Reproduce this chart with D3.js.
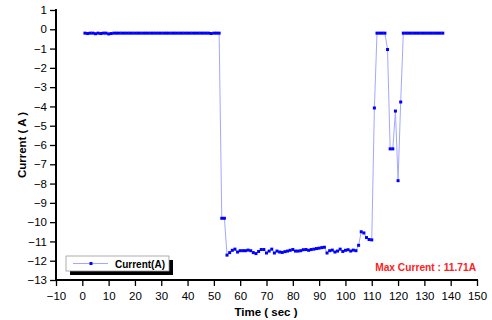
<!DOCTYPE html>
<html>
<head>
<meta charset="utf-8">
<script src="https://cdn.jsdelivr.net/npm/d3@7"></script>
<style>
body { margin: 0; background: #fff; }
svg text { font-family: "Liberation Sans", Arial, sans-serif; }
</style>
</head>
<body>
<div id="chart"></div>
<script>
// time (sec) and current (A)
var flatStart = [1, 2, 3, 4, 5, 6, 7, 8, 9, 10, 11, 12, 13, 14, 15, 16, 17, 18, 19, 20,
  21, 22, 23, 24, 25, 26, 27, 28, 29, 30, 31, 32, 33, 34, 35, 36, 37, 38, 39, 40,
  41, 42, 43, 44, 45, 46, 47, 48, 49, 50, 51, 52];
var flatStartVal = [-0.2, -0.22, -0.2, -0.2, -0.23, -0.2, -0.22, -0.2, -0.2, -0.24, -0.22, -0.2, -0.2, -0.2, -0.2, -0.2, -0.2, -0.2, -0.2, -0.2,
  -0.2, -0.2, -0.2, -0.2, -0.2, -0.2, -0.2, -0.2, -0.2, -0.2, -0.2, -0.2, -0.2, -0.2, -0.2, -0.2, -0.2, -0.2, -0.2, -0.2,
  -0.2, -0.2, -0.2, -0.2, -0.2, -0.2, -0.2, -0.2, -0.22, -0.2, -0.2, -0.2];
var midTime = [53, 54, 55, 56, 57, 58, 59, 60, 61, 62, 63, 64, 65, 66, 67, 68, 69, 70,
  71, 72, 73, 74, 75, 76, 77, 78, 79, 80, 81, 82, 83, 84, 85, 86, 87, 88, 89, 90,
  91, 92, 93, 94, 95, 96, 97, 98, 99, 100, 101, 102, 103, 104, 105, 106, 107, 108, 109, 110];
var midVal = [-9.8, -9.8, -11.71, -11.58, -11.46, -11.4, -11.55, -11.48, -11.48, -11.48, -11.45, -11.48, -11.58, -11.63, -11.52, -11.42, -11.42, -11.6,
  -11.5, -11.4, -11.6, -11.5, -11.55, -11.57, -11.53, -11.5, -11.46, -11.42, -11.5, -11.5, -11.48, -11.43, -11.42, -11.46, -11.42, -11.4, -11.37, -11.35,
  -11.32, -11.3, -11.6, -11.48, -11.45, -11.55, -11.5, -11.4, -11.52, -11.46, -11.43, -11.5, -11.45, -11.48, -11.2, -10.5, -10.56, -10.8, -10.9, -10.92];
var endTime = [111, 112, 113, 114, 115, 116, 117, 118, 119, 120, 121, 122, 123, 124, 125, 126, 127, 128, 129, 130,
  131, 132, 133, 134, 135, 136, 137];
var endVal = [-4.08, -0.2, -0.2, -0.2, -0.2, -1.05, -6.2, -6.2, -4.24, -7.85, -3.77, -0.2, -0.2, -0.2, -0.2, -0.2, -0.2, -0.2, -0.2, -0.2,
  -0.2, -0.2, -0.2, -0.2, -0.2, -0.2, -0.2];

var xTicks = [-10, 0, 10, 20, 30, 40, 50, 60, 70, 80, 90, 100, 110, 120, 130, 140, 150];
var yTicks = [1, 0, -1, -2, -3, -4, -5, -6, -7, -8, -9, -10, -11, -12, -13];
var seriesName = "Current(A)";
var note = "Max Current : 11.71A";

var data = [];
flatStart.forEach(function(t, i) { data.push({ t: t, v: flatStartVal[i] }); });
midTime.forEach(function(t, i) { data.push({ t: t, v: midVal[i] }); });
endTime.forEach(function(t, i) { data.push({ t: t, v: endVal[i] }); });

var W = 492, H = 320;
var x = d3.scaleLinear().domain([-10, 150]).range([56, 477]);
var y = d3.scaleLinear().domain([-13, 1]).range([280, 10]);

var svg = d3.select("#chart").append("svg")
  .attr("width", W).attr("height", H);

// line + markers
svg.append("path")
  .datum(data)
  .attr("fill", "none")
  .attr("stroke", "#a4a8ff")
  .attr("stroke-width", 1)
  .attr("d", d3.line().x(function(d) { return x(d.t); }).y(function(d) { return y(d.v); }));

svg.append("g").selectAll("rect")
  .data(data).enter().append("rect")
  .attr("x", function(d) { return x(d.t) - 1.5; })
  .attr("y", function(d) { return y(d.v) - 1.5; })
  .attr("width", 3).attr("height", 3)
  .attr("fill", "#0000ff");

// x axis
var xAxis = svg.append("g").attr("transform", "translate(0,280)");
xAxis.call(d3.axisBottom(x).tickValues(d3.range(-10, 151, 5)).tickSize(4).tickFormat(""));
xAxis.call(d3.axisBottom(x).tickValues(xTicks).tickSize(6).tickFormat(d3.format("d")));
xAxis.select(".domain").remove();
xAxis.selectAll("line").attr("stroke", "#000").attr("stroke-width", 1.3);
xAxis.selectAll("text").attr("font-size", 11.5).attr("fill", "#000").attr("dy", "0.95em");
svg.append("line").attr("x1", 55).attr("x2", 478).attr("y1", 280).attr("y2", 280)
  .attr("stroke", "#000").attr("stroke-width", 2);

// y axis
var yAxis = svg.append("g").attr("transform", "translate(56,0)");
yAxis.call(d3.axisLeft(y).tickValues(d3.range(-13, 1.01, 0.5)).tickSize(3).tickFormat(""));
yAxis.call(d3.axisLeft(y).tickValues(yTicks).tickSize(6).tickFormat(d3.format("d")));
yAxis.select(".domain").remove();
yAxis.selectAll("line").attr("stroke", "#000").attr("stroke-width", 1.3);
yAxis.selectAll("text").attr("font-size", 11.5).attr("fill", "#000").attr("x", -9);
svg.append("line").attr("x1", 56).attr("x2", 56).attr("y1", 9).attr("y2", 281)
  .attr("stroke", "#000").attr("stroke-width", 2);

// axis titles
svg.append("text")
  .attr("x", 266).attr("y", 316)
  .attr("text-anchor", "middle")
  .attr("font-size", 11.5).attr("font-weight", "bold")
  .text("Time ( sec )");
svg.append("text")
  .attr("transform", "translate(26,145) rotate(-90)")
  .attr("text-anchor", "middle")
  .attr("font-size", 11.5).attr("font-weight", "bold")
  .text("Current ( A )");

// legend
var lg = svg.append("g");
lg.append("rect").attr("x", 70).attr("y", 260).attr("width", 103).attr("height", 15).attr("fill", "#000");
lg.append("rect").attr("x", 66).attr("y", 256).attr("width", 103).attr("height", 15)
  .attr("fill", "#fff").attr("stroke", "#999").attr("stroke-width", 0.8);
lg.append("line").attr("x1", 73).attr("x2", 108).attr("y1", 263.5).attr("y2", 263.5)
  .attr("stroke", "#a4a8ff").attr("stroke-width", 1);
lg.append("rect").attr("x", 89.5).attr("y", 262).attr("width", 3).attr("height", 3).attr("fill", "#0000ff");
lg.append("text").attr("x", 115).attr("y", 267.5)
  .attr("font-size", 10).attr("font-weight", "bold").text(seriesName);

// note
svg.append("text")
  .attr("x", 476).attr("y", 271)
  .attr("text-anchor", "end")
  .attr("font-size", 10.2).attr("font-weight", "bold")
  .attr("fill", "#ff2020")
  .text(note);
</script>
</body>
</html>
